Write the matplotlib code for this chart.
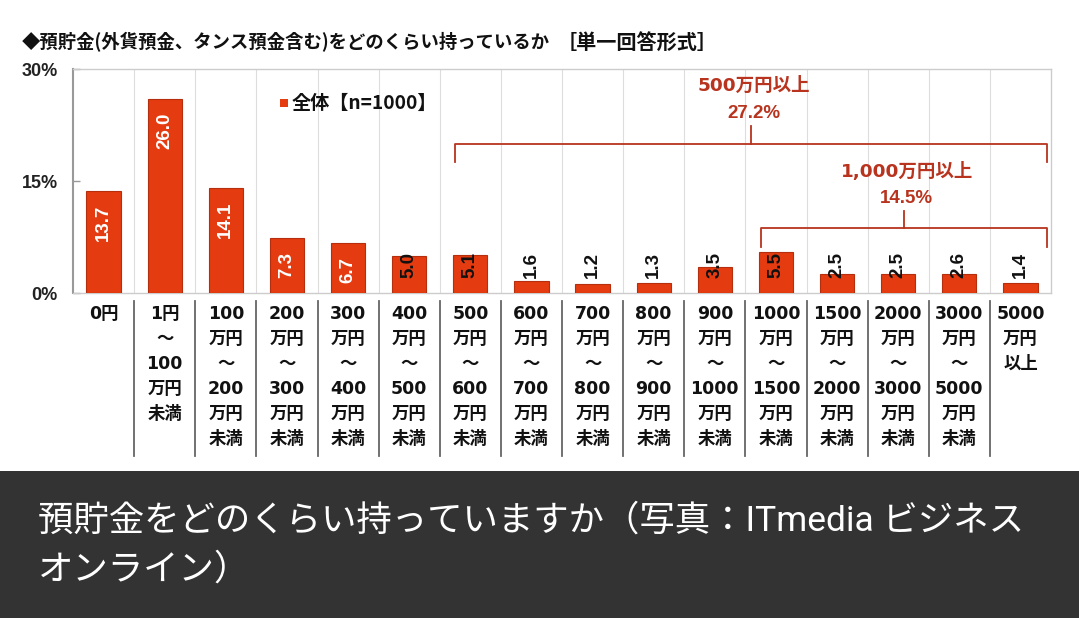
import matplotlib
matplotlib.use('Agg')
import matplotlib.pyplot as plt
import matplotlib.transforms as mtrans
from matplotlib.patches import Rectangle

# data
categories = [
    "0円",
    "1円\n～\n100\n万円\n未満",
    "100\n万円\n～\n200\n万円\n未満",
    "200\n万円\n～\n300\n万円\n未満",
    "300\n万円\n～\n400\n万円\n未満",
    "400\n万円\n～\n500\n万円\n未満",
    "500\n万円\n～\n600\n万円\n未満",
    "600\n万円\n～\n700\n万円\n未満",
    "700\n万円\n～\n800\n万円\n未満",
    "800\n万円\n～\n900\n万円\n未満",
    "900\n万円\n～\n1000\n万円\n未満",
    "1000\n万円\n～\n1500\n万円\n未満",
    "1500\n万円\n～\n2000\n万円\n未満",
    "2000\n万円\n～\n3000\n万円\n未満",
    "3000\n万円\n～\n5000\n万円\n未満",
    "5000\n万円\n以上",
]
values = [13.7, 26.0, 14.1, 7.3, 6.7, 5.0, 5.1, 1.6, 1.2, 1.3, 3.5, 5.5, 2.5, 2.5, 2.6, 1.4]
yticks = [0, 15, 30]
ytick_labels = ["0%", "15%", "30%"]
# groups for the brackets: (first index, label)
groups = [(6, "500万円以上"), (11, "1,000万円以上")]

title = "◆預貯金(外貨預金、タンス預金含む)をどのくらい持っているか"
title_note = "［単一回答形式］"
legend_label = "全体【n=1000】"
caption = ["預貯金をどのくらい持っていますか（写真：ITmedia ビジネス", "オンライン）"]

W, H = 1079, 618
bar_color = '#e53b10'
edge_color = '#b52e0e'
note_color = '#b8341f'
jp = ['Noto Sans CJK JP', 'DejaVu Sans']
num = ['Liberation Sans', 'Noto Sans CJK JP']
catfont = ['DejaVu Sans', 'Noto Sans CJK JP']

plt.rcParams['font.family'] = jp

fig = plt.figure(figsize=(W / 100, H / 100), dpi=100)

# pixel -> figure fraction
def fx(x):
  return x / W

def fy(y):
  return 1 - y / H

ax = fig.add_axes([fx(73), fy(293), fx(1051) - fx(73), fy(69) - fy(293)])
n = len(values)
xs = list(range(n))
ax.bar(xs, values, width=0.56, color=bar_color, edgecolor=edge_color, linewidth=0.8, zorder=3)
ax.set_xlim(-0.5, n - 0.5)
ax.set_ylim(0, 30)

# vertical grid between categories
for i in range(n - 1):
  ax.axvline(i + 0.5, color='#dddddd', lw=0.8, zorder=1)

ax.set_xticks([])
ax.set_yticks(yticks)
ax.set_yticklabels(ytick_labels, fontfamily=num, fontweight='bold', fontsize=13, color='#222222')
ax.tick_params(axis='y', direction='in', length=5, width=1, color='#999999', pad=11)
ax.spines['left'].set_color('#999999')
ax.spines['left'].set_linewidth(1.5)
for s in ['top', 'right', 'bottom']:
  ax.spines[s].set_color('#cccccc')
  ax.spines[s].set_linewidth(1.0)

# value labels
for x, v in zip(xs, values):
  if v >= 6:
    ax.annotate("%.1f" % v, (x, v), xytext=(0, -10), textcoords='offset points',
                rotation=90, ha='center', va='top', color='white',
                fontsize=13.5, fontweight='bold', fontfamily=num, zorder=4)
  else:
    ax.text(x, 3.7, "%.1f" % v, rotation=90, ha='center', va='center', color='#111111',
            fontsize=13.5, fontweight='bold', fontfamily=num, zorder=4)

# brackets
ends = [(5.75, 20.0, 17.5, 22.3, 27.8, 24.1), (10.75, 8.75, 6.2, 11.0, 16.3, 12.7)]
for (first, label), (x0, yl, ye, yt, ty1, ty2) in zip(groups, ends):
  total = sum(values[first:])
  x1 = 15.43
  xm = (x0 + x1) / 2
  ax.plot([x0, x0, x1, x1], [ye, yl, yl, ye], color=note_color, lw=1.3, clip_on=False, zorder=5)
  ax.plot([xm, xm], [yl, yt], color=note_color, lw=1.3, clip_on=False, zorder=5)
  ax.text(xm + 0.05, ty1, label, ha='center', va='center', color=note_color,
          fontsize=13.3, fontweight='bold', fontfamily=catfont, zorder=5)
  ax.text(xm + 0.05, ty2, "%.1f%%" % total, ha='center', va='center', color=note_color,
          fontsize=13.5, fontweight='bold', fontfamily=num, zorder=5)

# category labels below the axis
tr = mtrans.blended_transform_factory(ax.transData, fig.transFigure)
for i, lab in enumerate(categories):
  for k, line in enumerate(lab.split('\n')):
    ax.text(i, fy(314 + 25 * k), line, transform=tr, ha='center', va='center',
            fontsize=12.5, fontweight='bold', fontfamily=catfont, color='#111111')
for i in range(n - 1):
  ax.plot([i + 0.5, i + 0.5], [fy(301), fy(456)], transform=tr, color='#666666',
          lw=1.3, clip_on=False)

# title and legend
fig.text(fx(22), fy(42), title, ha='left', va='center', fontsize=13.2, fontweight='bold', color='#111111')
fig.text(fx(557), fy(42), title_note, ha='left', va='center', fontsize=14.5, fontweight='bold', color='#111111')
fig.patches.append(Rectangle((fx(280), fy(107)), fx(8), 8 / H, transform=fig.transFigure,
                             facecolor=bar_color, edgecolor='none'))
fig.text(fx(292), fy(103), legend_label, ha='left', va='center', fontsize=13.8,
         fontweight='bold', color='#111111')

# caption bar
fig.patches.append(Rectangle((0, 0), 1, fy(471), transform=fig.transFigure,
                             facecolor='#333333', edgecolor='none', zorder=0))
fig.text(fx(38), fy(521), caption[0], ha='left', va='center', fontsize=25.5,
         color='white', fontfamily=['Roboto', 'Noto Sans CJK JP'])
fig.text(fx(38), fy(570), caption[1], ha='left', va='center', fontsize=25.5,
         color='white', fontfamily=['Roboto', 'Noto Sans CJK JP'])

fig.savefig('out.png', dpi=100)
